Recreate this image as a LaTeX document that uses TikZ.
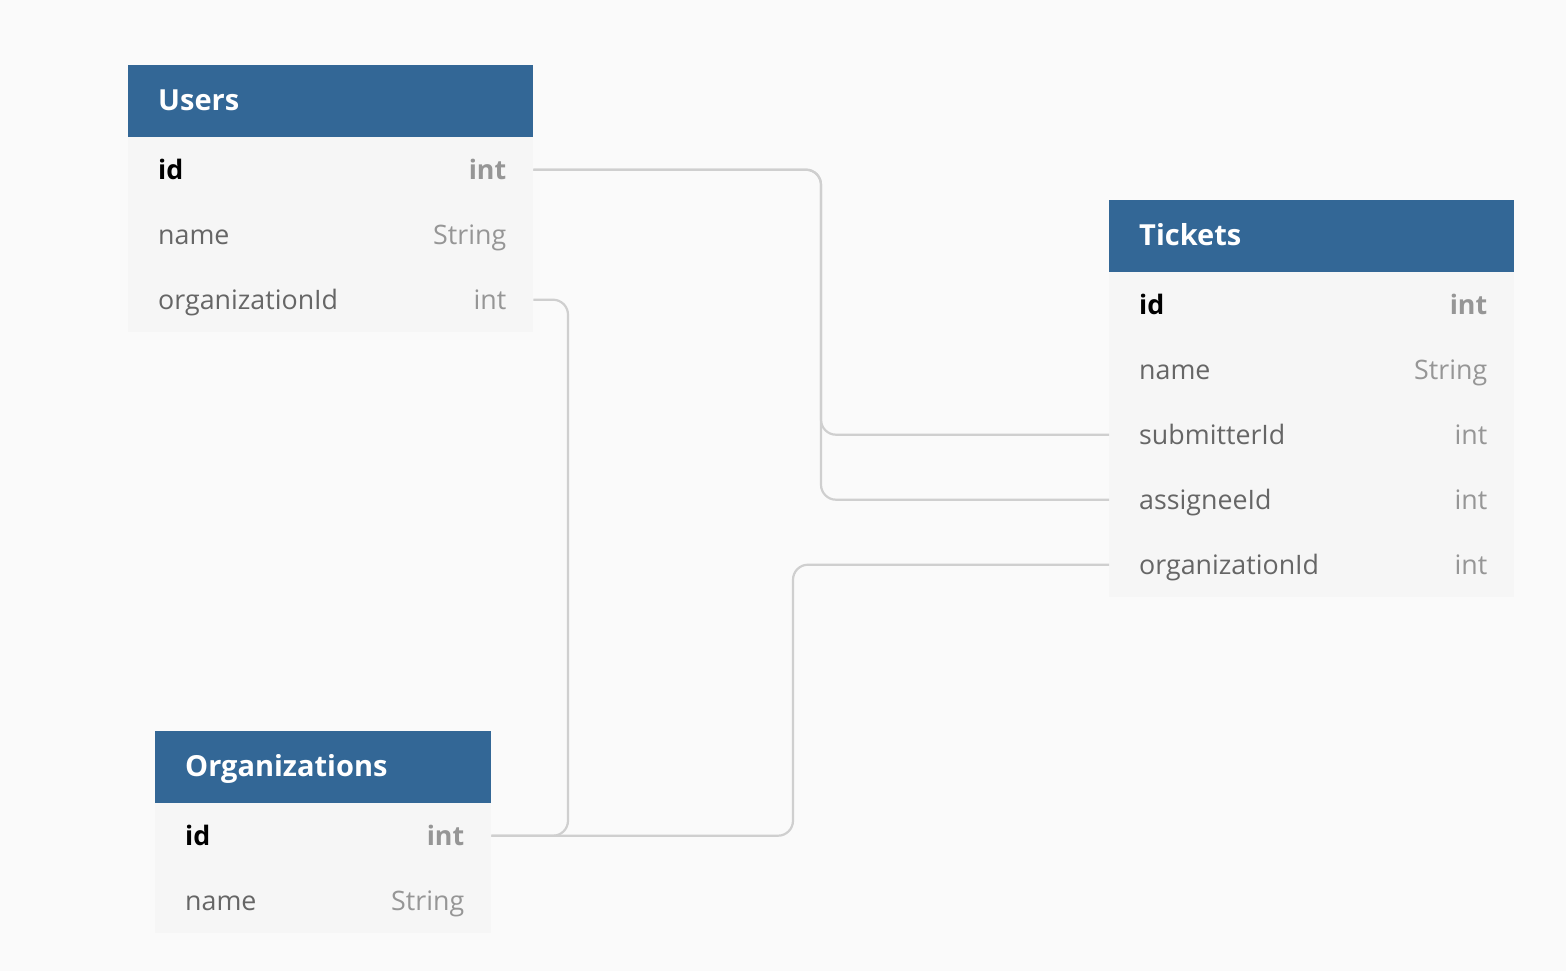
\documentclass[tikz,border=0pt]{standalone}
\usepackage{fontspec}
\setmainfont{Open Sans}
\definecolor{hdr}{HTML}{336796}
\definecolor{rowbg}{HTML}{F6F6F6}
\definecolor{pagebg}{HTML}{FAFAFA}
\definecolor{fieldc}{HTML}{666666}
\definecolor{typec}{HTML}{969696}
\definecolor{linkc}{HTML}{CFCFCF}
\begin{document}
\begin{tikzpicture}[x=1pt,y=-1pt,
  hdrbox/.style={fill=hdr,anchor=north west,inner sep=0pt,minimum height=72pt},
  rowbox/.style={fill=rowbg,anchor=north west,inner sep=0pt,minimum height=65pt},
  hdrtext/.style={anchor=base west,inner sep=0pt,text=white,font=\fontsize{29}{34}\selectfont\bfseries},
  fname/.style={anchor=base west,inner sep=0pt,text=fieldc,font=\fontsize{26.8}{32}\selectfont},
  fkey/.style={anchor=base west,inner sep=0pt,text=black,font=\fontsize{26.8}{32}\selectfont\bfseries},
  ftype/.style={anchor=base east,inner sep=0pt,text=typec,font=\fontsize{26.8}{32}\selectfont},
  fktype/.style={anchor=base east,inner sep=0pt,text=typec,font=\fontsize{26.8}{32}\selectfont\bfseries},
  link/.style={draw=linkc,line width=2.2pt,rounded corners=15pt}]
\fill[pagebg] (0,0) rectangle (1566,971);
\useasboundingbox (0,0) rectangle (1566,971);
% Users
\node[hdrbox,minimum width=405pt] (uh) at (128,65) {};
\node[rowbox,minimum width=405pt] (u1) at (128,137) {};
\node[rowbox,minimum width=405pt] (u2) at (128,202) {};
\node[rowbox,minimum width=405pt] (u3) at (128,267) {};
\node[hdrtext] (uht) at ([shift={(30,9.5)}]uh.west) {Users};
\node[fkey] (u1n) at ([shift={(30,9.5)}]u1.west) {id};
\node[fktype] (u1t) at ([shift={(-27,9.5)}]u1.east) {int};
\node[fname] (u2n) at ([shift={(30,9.5)}]u2.west) {name};
\node[ftype] (u2t) at ([shift={(-27,9.5)}]u2.east) {String};
\node[fname] (u3n) at ([shift={(30,9.5)}]u3.west) {organizationId};
\node[ftype] (u3t) at ([shift={(-27,9.5)}]u3.east) {int};
% Tickets
\node[hdrbox,minimum width=405pt] (th) at (1109,200) {};
\node[rowbox,minimum width=405pt] (t1) at (1109,272) {};
\node[rowbox,minimum width=405pt] (t2) at (1109,337) {};
\node[rowbox,minimum width=405pt] (t3) at (1109,402) {};
\node[rowbox,minimum width=405pt] (t4) at (1109,467) {};
\node[rowbox,minimum width=405pt] (t5) at (1109,532) {};
\node[hdrtext] (tht) at ([shift={(30,9.5)}]th.west) {Tickets};
\node[fkey] (t1n) at ([shift={(30,9.5)}]t1.west) {id};
\node[fktype] (t1t) at ([shift={(-27,9.5)}]t1.east) {int};
\node[fname] (t2n) at ([shift={(30,9.5)}]t2.west) {name};
\node[ftype] (t2t) at ([shift={(-27,9.5)}]t2.east) {String};
\node[fname] (t3n) at ([shift={(30,9.5)}]t3.west) {submitterId};
\node[ftype] (t3t) at ([shift={(-27,9.5)}]t3.east) {int};
\node[fname] (t4n) at ([shift={(30,9.5)}]t4.west) {assigneeId};
\node[ftype] (t4t) at ([shift={(-27,9.5)}]t4.east) {int};
\node[fname] (t5n) at ([shift={(30,9.5)}]t5.west) {organizationId};
\node[ftype] (t5t) at ([shift={(-27,9.5)}]t5.east) {int};
% Organizations
\node[hdrbox,minimum width=336pt] (oh) at (155,731) {};
\node[rowbox,minimum width=336pt] (o1) at (155,803) {};
\node[rowbox,minimum width=336pt] (o2) at (155,868) {};
\node[hdrtext] (oht) at ([shift={(30,9.5)}]oh.west) {Organizations};
\node[fkey] (o1n) at ([shift={(30,9.5)}]o1.west) {id};
\node[fktype] (o1t) at ([shift={(-27,9.5)}]o1.east) {int};
\node[fname] (o2n) at ([shift={(30,9.5)}]o2.west) {name};
\node[ftype] (o2t) at ([shift={(-27,9.5)}]o2.east) {String};
% links
\draw[link] (u1.east) -| (821,300) |- (t3.west);
\draw[link] (u1.east) -| (821,300) |- (t4.west);
\draw[link] (u3.east) -| (568,600) |- (o1.east);
\draw[link] (o1.east) -| (793,700) |- (t5.west);
\end{tikzpicture}
\end{document}
